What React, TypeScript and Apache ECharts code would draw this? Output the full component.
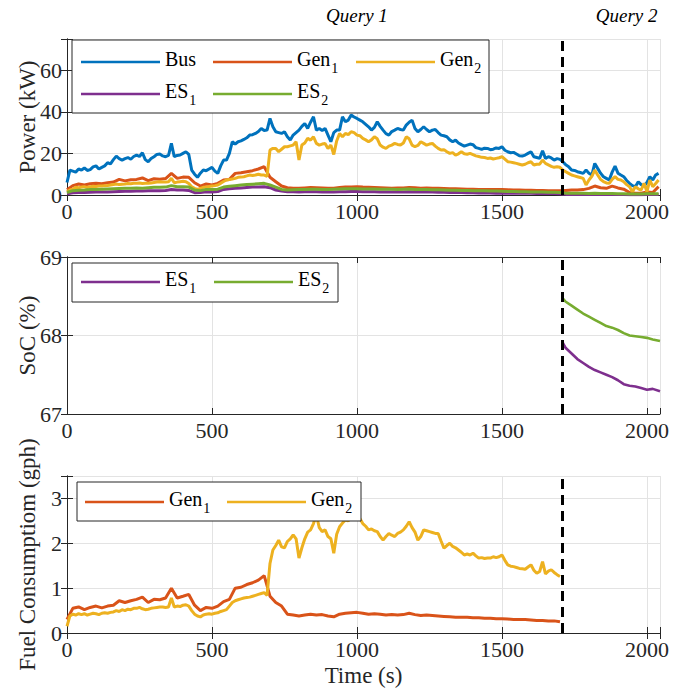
import React, { useEffect, useRef } from "react";
import * as echarts from "echarts";

// ---------------- data ----------------
const STEP_FINE = 10; // s between samples of the fine arrays
const STEP_COARSE = 20; // s between samples of the coarse arrays
const X_MAX = 2045;
const QUERY_SPLIT = 1708;

// Power (kW), every 10 s from t = 0
const BUS_POWER = [
  6, 12, 11.5, 11, 12.5, 12, 13, 11.8, 12.2, 13.5,
  14, 12.5, 13.3, 14, 15.5, 15, 17, 18.7, 17.5, 16.8,
  17.5, 18, 17.2, 18.5, 19.2, 18.5, 20.3, 17, 16, 17.5,
  18.4, 19.5, 19.7, 18.8, 18.4, 19, 24.8, 18.4, 19, 19.2,
  20, 20.8, 19.5, 12, 10, 8.5, 10.5, 12, 11.7, 12.5,
  13.3, 11.5, 10.4, 14, 16.8, 16.8, 20, 25.6, 24.5, 25.6,
  26, 26.7, 27.5, 28.8, 29, 29.6, 30.5, 32, 31, 31.2,
  36.8, 32.8, 30.4, 30, 29.6, 30.4, 28, 26.4, 28.8, 30,
  31.2, 33, 34.4, 32, 35, 37.6, 31.2, 32, 31, 32,
  28.8, 25.6, 30, 31.2, 31.2, 37.6, 35.2, 36, 38.4, 37.5,
  36.8, 36, 35.2, 34, 32.8, 31.2, 32.5, 35.2, 33, 31.2,
  29.5, 28.8, 30.5, 31.2, 32, 31.5, 31.2, 33.6, 35, 36,
  32, 30.4, 31.5, 32.8, 31.5, 30.4, 31.2, 31.5, 30, 28.8,
  28.5, 28, 26.5, 25.6, 26.4, 25, 24.2, 23.5, 24, 24.5,
  24.2, 22.8, 22.4, 21.9, 22.5, 22.4, 21.8, 22, 22.6, 22.4,
  23.2, 21.5, 20.8, 20.3, 20.5, 19.7, 18.9, 18.7, 19.2, 20,
  20.8, 18.4, 18, 17.6, 21.3, 17.6, 18.4, 17.8, 16.8, 17.5,
  17.1, 16, 14.5, 13.6, 12, 11.8, 11.2, 10.8, 10.4, 12,
  10.5, 9.6, 15.2, 12.8, 10.5, 8.8, 8, 7.2, 11, 13.9,
  10.5, 9.6, 8.8, 7, 5.6, 4.5, 4, 6.4, 5, 4.3,
  6, 8.8, 7.2, 9.6, 10.4,
];

const GEN2_POWER = [
  1.5, 2.4, 2.8, 3.7, 3.5, 3.8, 4, 3.6, 4, 4.2,
  4.1, 4.3, 4.3, 4.5, 4.6, 4.8, 5, 5.3, 5, 5.2,
  5.3, 5.5, 5.4, 5.6, 5.6, 5.8, 5.5, 5.6, 5.6, 5.8,
  6, 6.2, 6.4, 6.3, 6.2, 6.4, 8, 5.9, 6.2, 6.4,
  6.6, 6.4, 5.5, 4, 3.2, 2.7, 3.2, 3.7, 3.8, 4.1,
  4.3, 4.5, 4.8, 5.6, 6.5, 7.2, 7.4, 7.7, 8, 8.5,
  8.6, 8.8, 9.2, 9.6, 9.4, 9.6, 10, 9.6, 9.6, 9,
  21.6, 22.4, 22.4, 20.8, 22, 23.2, 23.2, 23.6, 24, 25.6,
  16.8, 24, 25, 27.2, 26.4, 28, 24.8, 24, 24.5, 24.8,
  22.4, 24, 19.5, 26, 29.6, 28, 29.6, 29, 30.4, 30,
  28.8, 28.5, 27.2, 26.5, 25.6, 26.5, 28, 27, 24, 23,
  22.4, 23.5, 24, 24.8, 24.3, 24, 25, 28, 27, 24,
  23.2, 23.8, 25.6, 24.8, 24, 24.5, 24.8, 23.5, 22.4, 21.6,
  21.8, 20.8, 20, 20.4, 19.2, 19.8, 20.8, 19.8, 19.6, 20,
  19.4, 18.8, 18.5, 18.1, 18, 17.6, 17.8, 17.3, 17.6, 17.9,
  18.4, 17.2, 16, 15.8, 15.5, 15.2, 14.8, 14.4, 14.8, 15.5,
  16, 14.4, 14.8, 14.8, 16.8, 15.2, 14.5, 13.8, 13.3, 13.6,
  13.3, 12, 11.2, 10.4, 9.6, 9.2, 8.8, 8.4, 8, 4.8,
  7.2, 9, 12, 9.6, 7.5, 6.4, 5.8, 5.6, 7.5, 8.8,
  7.5, 7.2, 6.4, 5, 4, 1.6, 4, 3, 2.4, 5.6,
  1.6, 7.2, 4, 5.5, 7.2,
];

// Power (kW), every 20 s from t = 0
const GEN1_POWER = [
  2.5, 4.5, 5.3, 4.8, 5.4,
  5.6, 5.4, 5.9, 6.2, 7.5,
  6.8, 7.3, 7.5, 8.2, 6.9,
  7.8, 7.6, 7.9, 10.4, 8,
  8.6, 8.5, 5.9, 4.3, 5.3,
  4.8, 5.6, 7.2, 7.5, 10.4,
  10.7, 11.2, 11.7, 12.5, 13.6,
  8.5, 6.4, 4.3, 3.5, 3.3,
  3.2, 3.4, 3.6, 3.5, 3.4,
  3.2, 3.3, 3.6, 3.8, 3.9,
  4, 3.8, 3.7, 3.6, 3.5,
  3.4, 3.3, 3.4, 3.4, 3.6,
  3.5, 3.3, 3.4, 3.3, 3.2,
  3.1, 3, 3, 2.9, 2.8,
  2.8, 2.7, 2.7, 2.6, 2.6,
  2.6, 2.5, 2.4, 2.4, 2.3,
  2.3, 2.2, 2.2, 2.1, 2.1,
  2, 2.2, 2.4, 2.4, 2.6,
  3.2, 4.3, 3.5, 3.2, 4.3,
  3.4, 2.8, 1.2, 0.8, 0.9,
  1.5, 1.2, 4,
];

const ES1_POWER = [
  0.6, 1.1, 1.2, 1.2, 1.3,
  1.4, 1.4, 1.5, 1.6, 1.7,
  1.8, 1.8, 1.9, 1.9, 2,
  2.1, 2.1, 2.2, 2.6, 2.4,
  2.4, 2.2, 1.1, 1.2, 1.6,
  1.5, 1.7, 2.7, 3, 3.2,
  3.4, 3.6, 3.8, 3.9, 4,
  3.5, 2.4, 1.9, 1.6, 1.6,
  1.5, 1.6, 1.6, 1.6, 1.5,
  1.5, 1.5, 1.6, 1.6, 1.7,
  1.7, 1.6, 1.6, 1.6, 1.5,
  1.5, 1.5, 1.5, 1.5, 1.6,
  1.5, 1.4, 1.4, 1.4, 1.3,
  1.3, 1.2, 1.2, 1.2, 1.1,
  1.1, 1, 1, 1, 0.9,
  0.9, 0.9, 0.8, 0.8, 0.8,
  0.8, 0.7, 0.7, 0.7, 0.7,
  0.6, 0.3, 0.3, 0.3, 0.3,
  0.2, 0.3, 0.3, 0.2, 0.3,
  0.2, 0.2, 0.1, 0.1, 0.1,
  0.2, 0.2, 0.2,
];

const ES2_POWER = [
  1.2, 2.1, 2.3, 2.4, 2.6,
  2.7, 2.8, 2.9, 3, 3.1,
  3.2, 3.3, 3.4, 3.3, 3.5,
  3.7, 3.7, 3.8, 4.5, 4,
  4, 3.8, 2.4, 2.1, 2.7,
  2.6, 2.8, 3.8, 4.2, 4.5,
  4.8, 5, 5.2, 5.4, 5.6,
  4.8, 3.8, 2.7, 2.4, 2.5,
  2.6, 2.7, 2.8, 2.8, 2.7,
  2.7, 2.8, 2.9, 3, 3,
  3, 2.9, 2.9, 2.9, 2.8,
  2.8, 2.8, 2.7, 2.8, 2.9,
  2.7, 2.6, 2.6, 2.5, 2.5,
  2.4, 2.3, 2.3, 2.2, 2.2,
  2.1, 2, 2, 1.9, 1.9,
  1.8, 1.7, 1.7, 1.6, 1.6,
  1.5, 1.4, 1.4, 1.3, 1.3,
  1.2, 0.9, 0.8, 0.8, 0.8,
  0.7, 0.8, 0.7, 0.7, 0.7,
  0.6, 0.6, 0.5, 0.5, 0.5,
  0.6, 0.6, 0.6,
];

// State of charge (%), Query 2 only
const SOC_TIME = [1708, 1720, 1740, 1760, 1780, 1800, 1820, 1840, 1860, 1880, 1900, 1920, 1940, 1960, 1980, 2000, 2020, 2045];
const ES1_SOC = [67.92, 67.84, 67.77, 67.7, 67.65, 67.6, 67.56, 67.53, 67.5, 67.47, 67.43, 67.38, 67.36, 67.35, 67.33, 67.31, 67.32, 67.29];
const ES2_SOC = [68.48, 68.43, 68.38, 68.33, 68.28, 68.24, 68.2, 68.16, 68.12, 68.1, 68.07, 68.03, 68.0, 67.99, 67.98, 67.97, 67.95, 67.93];

// Fuel consumption (gph), Query 1 only
const GEN1_FUEL = [ // every 20 s
  0.3, 0.55, 0.58, 0.52, 0.57,
  0.6, 0.56, 0.6, 0.62, 0.72,
  0.68, 0.72, 0.75, 0.8, 0.68,
  0.75, 0.74, 0.78, 1.0, 0.78,
  0.82, 0.86, 0.62, 0.5, 0.57,
  0.55, 0.6, 0.7, 0.75, 1.0,
  1.02, 1.08, 1.12, 1.18, 1.28,
  0.82, 0.68, 0.6, 0.42, 0.4,
  0.38, 0.4, 0.42, 0.4, 0.41,
  0.38, 0.36, 0.42, 0.44, 0.45,
  0.46, 0.44, 0.42, 0.43, 0.42,
  0.4, 0.41, 0.4, 0.41, 0.44,
  0.41, 0.39, 0.4, 0.39, 0.38,
  0.37, 0.36, 0.35, 0.35, 0.35,
  0.34, 0.34, 0.33, 0.33, 0.32,
  0.32, 0.31, 0.3, 0.3, 0.3,
  0.29, 0.28, 0.28, 0.27, 0.27,
  0.25,
];
const GEN2_FUEL = [ // every 10 s
  0.15, 0.38, 0.42, 0.4, 0.43, 0.41, 0.43, 0.4, 0.42, 0.44,
  0.43, 0.41, 0.44, 0.45, 0.44, 0.46, 0.47, 0.5, 0.48, 0.52,
  0.5, 0.53, 0.52, 0.55, 0.55, 0.57, 0.54, 0.52, 0.53, 0.55,
  0.56, 0.57, 0.58, 0.58, 0.57, 0.58, 0.78, 0.58, 0.6, 0.59,
  0.62, 0.63, 0.6, 0.5, 0.42, 0.38, 0.36, 0.4, 0.42, 0.43,
  0.42, 0.44, 0.45, 0.48, 0.5, 0.52, 0.6, 0.68, 0.72, 0.74,
  0.76, 0.78, 0.79, 0.8, 0.82, 0.84, 0.86, 0.88, 0.9, 0.84,
  1.55, 1.85, 1.95, 2.07, 1.92, 1.9, 2.04, 2.1, 2.19, 2.1,
  1.67, 1.9, 2.1, 2.25, 2.3, 2.44, 2.63, 2.35, 2.26, 2.3,
  2.15, 2.1, 1.78, 2.2, 2.37, 2.45, 2.52, 2.5, 2.6, 2.55,
  2.55, 2.55, 2.44, 2.38, 2.3, 2.32, 2.28, 2.26, 2.15, 2.07,
  2.15, 2.22, 2.18, 2.15, 2.22, 2.25, 2.3, 2.38, 2.48, 2.35,
  2.25, 2.07, 2.15, 2.3, 2.28, 2.26, 2.24, 2.22, 2.22, 2.05,
  1.89, 1.95, 2.0, 1.93, 1.9, 1.85, 1.8, 1.74, 1.76, 1.74,
  1.78, 1.72, 1.67, 1.68, 1.66, 1.67, 1.67, 1.7, 1.68, 1.7,
  1.74, 1.62, 1.52, 1.49, 1.48, 1.46, 1.44, 1.43, 1.42, 1.47,
  1.52, 1.4, 1.33, 1.37, 1.59, 1.32, 1.38, 1.41, 1.35, 1.3,
  1.26,
];

const X_TICKS = [0, 500, 1000, 1500, 2000];
const QUERY_LABELS = ["Query 1", "Query 2"];
const QUERY_LABEL_AT = [1000, 1930]; // x position (s) of each label's centre

// ---------------- styling / layout ----------------
const FONT = "Liberation Serif";
const INK = "#262626";
const COLORS: Record<string, string> = {
  Bus: "#0072BD",
  Gen1: "#D95319",
  Gen2: "#EDB120",
  ES1: "#7E2F8E",
  ES2: "#77AC30",
};
const GRID_LEFT = 67;
const GRID_WIDTH = 593;
const GRIDS = [
  { top: 39, height: 156 },
  { top: 257, height: 157 },
  { top: 476, height: 157 },
];
const LEGEND_BOXES = [
  { x: 72, y: 40, w: 417, h: 73 },
  { x: 72, y: 263, w: 266, h: 39 },
  { x: 77, y: 482, w: 284, h: 39 },
];
const LEGEND_ITEMS = [
  { name: "Bus", x: 81, cy: 62 },
  { name: "Gen1", x: 213, cy: 62 },
  { name: "Gen2", x: 356, cy: 62 },
  { name: "ES1", x: 81, cy: 94 },
  { name: "ES2", x: 213, cy: 94 },
  { name: "ES1", x: 81, cy: 282 },
  { name: "ES2", x: 214, cy: 282 },
  { name: "Gen1", x: 85, cy: 502 },
  { name: "Gen2", x: 227, cy: 502 },
];
const LEGEND_ROW_H = 30;

const regular = (vals: number[], step: number) => vals.map((v, i) => [i * step, v]);
const paired = (ts: number[], vs: number[]) => ts.map((t, i) => [t, vs[i]]);

const App: React.FC = () => {
  const ref = useRef<HTMLDivElement>(null);

  useEffect(() => {
    if (!ref.current) return;
    const chart = echarts.init(ref.current, undefined, { renderer: "svg" });

    const tickLabel = { fontFamily: FONT, fontSize: 22, color: INK };
    const nameStyle = { fontFamily: FONT, fontSize: 23, color: INK };

    const mainX = (gi: number) => ({
      type: "value",
      gridIndex: gi,
      min: 0,
      max: X_MAX,
      interval: 500,
      axisLine: { show: true, lineStyle: { color: INK, width: 1 } },
      axisTick: { show: true, inside: true, length: 6, lineStyle: { color: INK } },
      axisLabel: {
        ...tickLabel,
        margin: 5,
        formatter: (v: number) => (X_TICKS.includes(v) ? String(v) : ""),
      },
      splitLine: { show: true, lineStyle: { color: "#e3e3e3", width: 1 } },
      ...(gi === 2
        ? { name: "Time (s)", nameLocation: "middle", nameGap: 31, nameMoveOverlap: false, nameTextStyle: nameStyle }
        : {}),
    });
    const topX = (gi: number) => ({
      type: "value",
      gridIndex: gi,
      position: "top",
      min: 0,
      max: X_MAX,
      interval: 500,
      axisLine: { show: true, lineStyle: { color: INK, width: 1 } },
      axisTick: { show: true, inside: true, length: 6, lineStyle: { color: INK } },
      axisLabel: { show: false },
      splitLine: { show: false },
    });
    const yAxisDef = (gi: number, min: number, max: number, interval: number, name: string, right: boolean) => ({
      type: "value",
      gridIndex: gi,
      position: right ? "right" : "left",
      min,
      max,
      interval,
      axisLine: { show: true, lineStyle: { color: INK, width: 1 } },
      axisTick: { show: true, inside: true, length: 6, lineStyle: { color: INK } },
      axisLabel: right
        ? { show: false }
        : {
            ...tickLabel,
            margin: 5,
            formatter: (v: number) => (Math.abs(v / interval - Math.round(v / interval)) < 1e-6 ? String(v) : ""),
          },
      splitLine: { show: !right, lineStyle: { color: "#e3e3e3", width: 1 } },
      ...(right
        ? {}
        : { name, nameLocation: "middle", nameGap: 28, nameMoveOverlap: false, nameTextStyle: nameStyle }),
    });

    const dashed = {
      silent: true,
      symbol: ["none", "none"],
      label: { show: false },
      lineStyle: { color: "#000", width: 3, type: [10, 6] },
      emphasis: { disabled: true },
      data: [{ xAxis: QUERY_SPLIT }],
    };

    const line = (name: string, data: number[][], gi: number, width: number, extra: any = {}) => ({
      type: "line",
      name,
      xAxisIndex: gi,
      yAxisIndex: gi,
      data,
      showSymbol: false,
      symbol: "none",
      clip: true,
      lineStyle: { color: COLORS[name], width },
      itemStyle: { color: COLORS[name] },
      emphasis: { disabled: true },
      ...extra,
    });

    const legendFormatter = (name: string) => {
      const m = name.match(/^(\D+)(\d)?$/);
      const base = m ? m[1] : name;
      const sub = m && m[2] ? m[2] : " ";
      return `{b|${base}}{s|${sub}}`;
    };

    const legends = LEGEND_ITEMS.map((it) => ({
      data: [it.name],
      left: it.x,
      top: it.cy - LEGEND_ROW_H / 2,
      padding: 0,
      z: 20,
      icon: "rect",
      itemWidth: 79,
      itemHeight: 2.7,
      selectedMode: false,
      formatter: legendFormatter,
      textStyle: {
        color: "#000",
        fontFamily: FONT,
        rich: {
          b: { fontFamily: FONT, fontSize: 20, color: "#000", lineHeight: 26, verticalAlign: "top" },
          s: { fontFamily: FONT, fontSize: 14, color: "#000", lineHeight: 16, padding: [14, 0, 0, 1], verticalAlign: "bottom" },
        },
      },
    }));

    const graphics: any[] = LEGEND_BOXES.map((b) => ({
      type: "rect",
      z: 15,
      shape: { x: b.x, y: b.y, width: b.w, height: b.h },
      style: { fill: "#fff", stroke: INK, lineWidth: 1 },
      silent: true,
    }));
    QUERY_LABELS.forEach((label, i) => {
      graphics.push({
        type: "text",
        z: 15,
        x: GRID_LEFT + (QUERY_LABEL_AT[i] / X_MAX) * GRID_WIDTH,
        y: 15,
        style: { text: label, font: `italic 19px ${FONT}`, fill: "#000", align: "center", verticalAlign: "middle" },
      });
    });

    chart.setOption({
      animation: false,
      backgroundColor: "#fff",
      textStyle: { fontFamily: FONT },
      grid: GRIDS.map((g) => ({ left: GRID_LEFT, width: GRID_WIDTH, top: g.top, height: g.height, containLabel: false })),
      xAxis: [mainX(0), mainX(1), mainX(2), topX(0), topX(1), topX(2)],
      yAxis: [
        yAxisDef(0, 0, 75, 20, "Power (kW)", false),
        yAxisDef(1, 67, 69, 1, "SoC (%)", false),
        yAxisDef(2, 0, 3.5, 1, "Fuel Consumptiom (gph)", false),
        yAxisDef(0, 0, 75, 20, "", true),
        yAxisDef(1, 67, 69, 1, "", true),
        yAxisDef(2, 0, 3.5, 1, "", true),
      ],
      legend: legends,
      graphic: graphics,
      series: [
        line("Bus", regular(BUS_POWER, STEP_FINE), 0, 3),
        line("Gen1", regular(GEN1_POWER, STEP_COARSE), 0, 3),
        line("Gen2", regular(GEN2_POWER, STEP_FINE), 0, 3),
        line("ES1", regular(ES1_POWER, STEP_COARSE), 0, 3),
        line("ES2", regular(ES2_POWER, STEP_COARSE), 0, 3, { markLine: dashed }),
        line("ES1", paired(SOC_TIME, ES1_SOC), 1, 2.6),
        line("ES2", paired(SOC_TIME, ES2_SOC), 1, 2.6, { markLine: dashed }),
        line("Gen1", regular(GEN1_FUEL, STEP_COARSE), 2, 3),
        line("Gen2", regular(GEN2_FUEL, STEP_FINE), 2, 3, { markLine: dashed }),
      ],
    });

    return () => chart.dispose();
  }, []);

  return (
    <div
      ref={ref}
      style={{ position: "absolute", left: 0, top: 0, width: 683, height: 693, background: "#fff" }}
    />
  );
};

export default App;
